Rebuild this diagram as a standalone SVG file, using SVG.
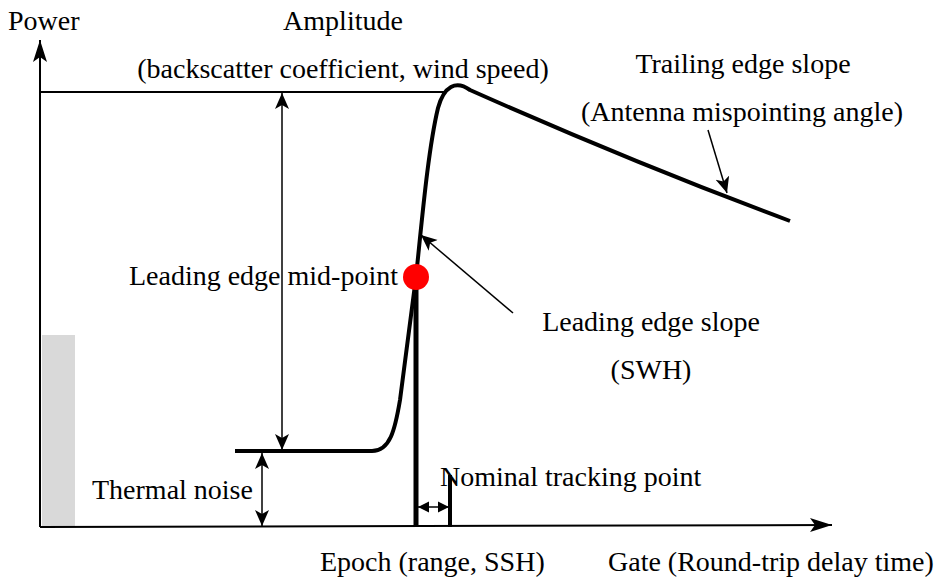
<svg xmlns="http://www.w3.org/2000/svg" width="934" height="577" viewBox="0 0 934 577">
<style>
text{font-family:"Liberation Serif","Times New Roman",serif;font-size:28px;fill:#000}
.ln{stroke:#000;fill:none}
</style>
<defs>
<marker id="ah" markerUnits="userSpaceOnUse" markerWidth="20" markerHeight="16" refX="16" refY="8" orient="auto-start-reverse" viewBox="0 0 20 16">
<path d="M0,1 L16,8 L0,15 L4,8 Z" fill="#000"/>
</marker>
<marker id="ax" markerUnits="userSpaceOnUse" markerWidth="24" markerHeight="16" refX="22" refY="8" orient="auto" viewBox="0 0 24 16">
<path d="M0,1 L22,8 L0,15 L5,8 Z" fill="#000"/>
</marker>
<marker id="sm" markerUnits="userSpaceOnUse" markerWidth="12" markerHeight="12" refX="11" refY="6" orient="auto-start-reverse" viewBox="0 0 12 12">
<path d="M0,0.5 L11,6 L0,11.5 Z" fill="#000"/>
</marker>
</defs>
<rect id="noise-bar" x="42" y="335" width="33" height="192" fill="#d9d9d9"/>
<g id="connectors">
<line class="ln" x1="40" y1="527" x2="40" y2="40" stroke-width="2" marker-end="url(#ax)"/>
<line class="ln" x1="40" y1="527" x2="832" y2="525" stroke-width="2" marker-end="url(#ax)"/>
<line class="ln" x1="40" y1="92" x2="447" y2="92" stroke-width="2"/>
<line class="ln" x1="282" y1="93" x2="282" y2="450" stroke-width="1.5" marker-start="url(#ah)" marker-end="url(#ah)"/>
<line class="ln" x1="262" y1="453" x2="262" y2="526" stroke-width="1.5" marker-start="url(#ah)" marker-end="url(#ah)"/>
<line class="ln" x1="513" y1="313" x2="421" y2="235" stroke-width="1.5" marker-end="url(#ah)"/>
<line class="ln" x1="708" y1="130" x2="727" y2="193" stroke-width="1.5" marker-end="url(#ah)"/>
<line class="ln" x1="418" y1="507" x2="449" y2="507" stroke-width="1.5" marker-start="url(#sm)" marker-end="url(#sm)"/>
<line class="ln" x1="416" y1="285" x2="416" y2="527" stroke-width="5"/>
<line class="ln" x1="450" y1="475" x2="450" y2="527" stroke-width="4"/>
</g>
<g id="waveform">
<path class="ln" stroke-width="4" stroke-linejoin="round" d="M235,451 L372,451 C390,451 395,430 400,400 L416,277 C422,220 428,150 438,108 C444,86 456,80 470,90 C560,130 680,180 790,221"/>
</g>
<g id="mid-point"><circle cx="416" cy="277" r="13" fill="#ff0000"/></g>
<g id="labels">
<text x="8" y="30">Power</text>
<text x="343" y="30" text-anchor="middle">Amplitude</text>
<text x="343" y="78" text-anchor="middle">(backscatter coefficient, wind speed)</text>
<text x="743" y="73" text-anchor="middle">Trailing edge slope</text>
<text x="742" y="121" text-anchor="middle">(Antenna mispointing angle)</text>
<text x="398" y="285" text-anchor="end">Leading edge mid-point</text>
<text x="651" y="331" text-anchor="middle">Leading edge slope</text>
<text x="651" y="379" text-anchor="middle">(SWH)</text>
<text x="92" y="499">Thermal noise</text>
<text x="440" y="486">Nominal tracking point</text>
<text x="320" y="571">Epoch (range, SSH)</text>
<text x="608" y="571">Gate (Round-trip delay time)</text>
</g>
</svg>
